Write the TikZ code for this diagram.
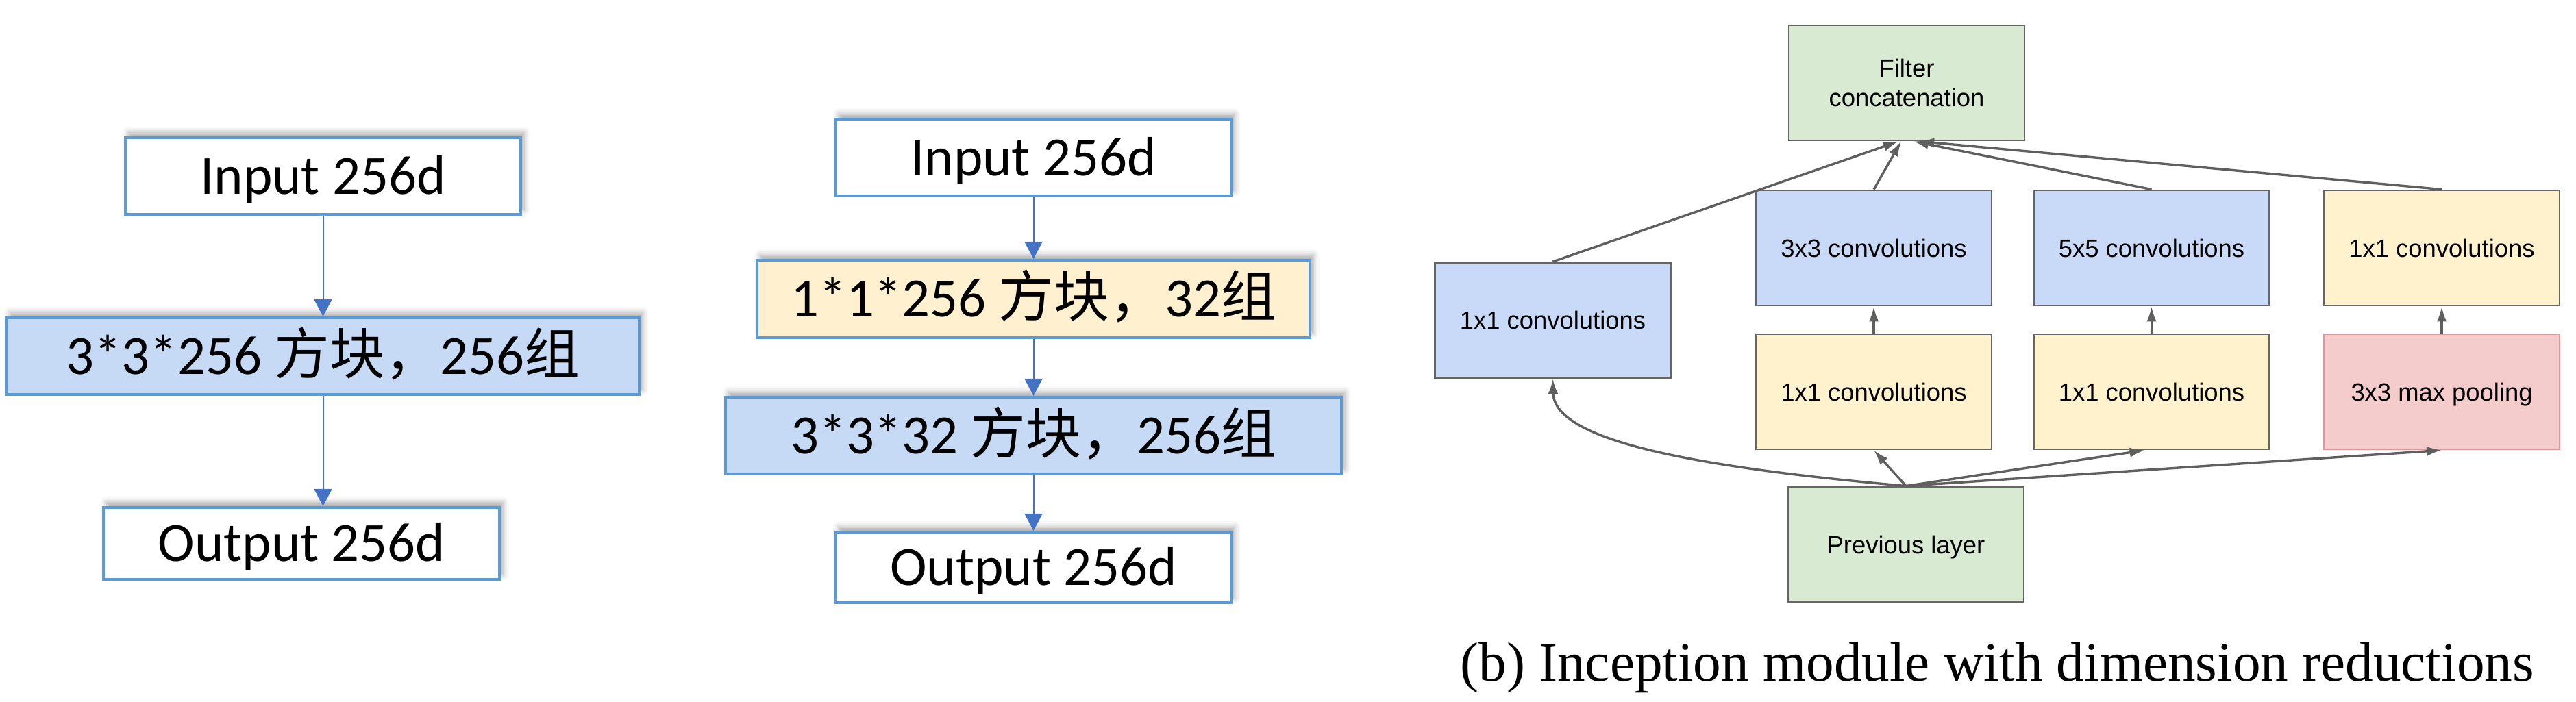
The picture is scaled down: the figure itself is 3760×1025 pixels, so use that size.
\documentclass[tikz,border=0pt]{standalone}
\usepackage{fontspec}
\setmainfont{Carlito}
\newfontfamily\cjk{Noto Sans CJK SC}
\newfontfamily\arialf{Liberation Sans}
\newfontfamily\timesf{Liberation Serif}
\usetikzlibrary{arrows.meta,shadows.blur,calc}

\definecolor{pptblue}{RGB}{91,155,213}
\definecolor{arrblue}{RGB}{68,114,196}
\definecolor{lblue}{RGB}{199,218,245}
\definecolor{lyellow}{RGB}{255,241,208}
\definecolor{ggreen}{RGB}{217,234,211}
\definecolor{gblue}{RGB}{201,218,248}
\definecolor{gyellow}{RGB}{255,242,204}
\definecolor{gred}{RGB}{244,204,204}
\definecolor{gredborder}{RGB}{224,150,150}
\definecolor{gborder}{RGB}{102,102,102}
\definecolor{gline}{RGB}{95,95,95}

\begin{document}
\begin{tikzpicture}[x=0.25pt,y=-0.25pt,
  pbox/.style={draw=pptblue, line width=1pt, inner sep=0pt, fill=white,
    font=\fontsize{20.2}{24}\selectfont, text height=13.1pt, text depth=0pt,
    blur shadow={shadow xshift=1.2pt, shadow yshift=1.8pt, shadow blur radius=2.2pt, shadow opacity=35}},
  larrow/.style={color=arrblue, line width=0.5pt, -{Triangle[length=6.25pt,width=6.5pt]}},
  gbox/.style={draw=gborder, line width=0.7pt, inner sep=0pt, minimum width=86pt, minimum height=42pt,
    font=\arialf\fontsize{9.1}{10.75}\selectfont, text height=6.55pt, text depth=0pt, align=center},
  garrow/.style={color=gline, line width=0.85pt, -{Latex[length=5.5pt,width=3.6pt]}},
]
\useasboundingbox (0,0) rectangle (3760,1025);

% ---------- left diagram ----------
\node[pbox, minimum width=577*0.25pt, minimum height=112*0.25pt] (in1) at (471.5,257) {Input 256d};
\node[pbox, fill=lblue, minimum width=923*0.25pt, minimum height=112*0.25pt] (b1) at (471.5,520) {3*3*256 {\cjk 方块，}256{\cjk 组}};
\node[pbox, minimum width=578*0.25pt, minimum height=105*0.25pt] (out1) at (440,793.5) {Output 256d};
\draw[larrow] (in1.south) -- (b1.north);
\draw[larrow] (b1.south) -- (b1.south |- out1.north);

% ---------- middle diagram ----------
\node[pbox, minimum width=577*0.25pt, minimum height=112*0.25pt] (in2) at (1508.5,230) {Input 256d};
\node[pbox, fill=lyellow, minimum width=807*0.25pt, minimum height=113*0.25pt] (y2) at (1508.5,436.5) {1*1*256 {\cjk 方块，}32{\cjk 组}};
\node[pbox, fill=lblue, minimum width=899*0.25pt, minimum height=112*0.25pt] (b2) at (1508.5,636) {3*3*32 {\cjk 方块，}256{\cjk 组}};
\node[pbox, minimum width=577*0.25pt, minimum height=103*0.25pt] (out2) at (1508.5,828.5) {Output 256d};
\draw[larrow] (in2.south) -- (y2.north);
\draw[larrow] (y2.south) -- (b2.north);
\draw[larrow] (b2.south) -- (out2.north);

% ---------- right diagram ----------
\node[gbox, fill=ggreen, text height=17.3pt] (fc) at (2783,121) {Filter\\concatenation};
\node[gbox, fill=gblue] (c3) at (2735,362) {3x3 convolutions};
\node[gbox, fill=gblue] (c5) at (3140.5,362) {5x5 convolutions};
\node[gbox, fill=gyellow] (c1r) at (3564,362) {1x1 convolutions};
\node[gbox, fill=gblue] (c1l) at (2266.5,467.5) {1x1 convolutions};
\node[gbox, fill=gyellow] (r1) at (2735,572) {1x1 convolutions};
\node[gbox, fill=gyellow] (r2) at (3140.5,572) {1x1 convolutions};
\node[gbox, fill=gred, draw=gredborder] (mp) at (3564,572) {3x3 max pooling};
\node[gbox, fill=ggreen] (prev) at (2782,795) {Previous layer};

\draw[garrow] (prev.north) .. controls (2450,680) and (2268,640) .. (c1l.south);
\draw[garrow] (prev.north) -- (r1.south);
\draw[garrow] (prev.north) -- ($(r2.south)+(-10,0)$);
\draw[garrow] (prev.north) -- (mp.south);
\draw[garrow] (r1.north) -- (c3.south);
\draw[garrow] (r2.north) -- (c5.south);
\draw[garrow] (mp.north) -- (c1r.south);
\draw[garrow] (c1l.north) -- ($(fc.south)+(-12,0)$);
\draw[garrow] (c3.north) -- ($(fc.south)+(-8,0)$);
\draw[garrow] (c5.north) -- ($(fc.south)+(10,0)$);
\draw[garrow] (c1r.north) -- ($(fc.south)+(18,0)$);

\node[font=\timesf\fontsize{20.3}{24}\selectfont, anchor=base, inner sep=0pt] (cap) at (2915,995) {(b) Inception module with dimension reductions};
\end{tikzpicture}
\end{document}
